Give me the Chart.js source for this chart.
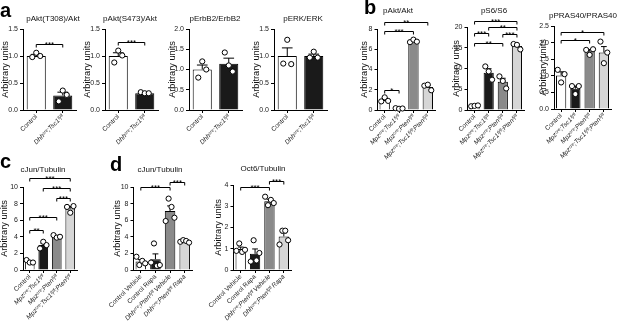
<!DOCTYPE html>
<html>
<head>
<meta charset="utf-8">
<script src="https://cdn.jsdelivr.net/npm/chart.js@4.4.1/dist/chart.umd.min.js"></script>
<style>
  html, body { margin: 0; padding: 0; background: #fff; }
  #fig { position: relative; width: 617px; height: 321px; overflow: hidden;
         font-family: 'Liberation Sans', Arial, sans-serif; }
  #fig canvas { position: absolute; }
  .ttl { position: absolute; font-size: 8px; white-space: nowrap; color: #111;
         transform: translate(-50%, -50%); }
  .lett { position: absolute; font-weight: bold; font-size: 20px; line-height: 20px; color: #000; }
</style>
</head>
<body>
<div id="fig"></div>
<script>
// categories
const catA = ['Control', 'Dhhᶜʳᵉ;Tsc1ᶠˡ/ᶠˡ'];
const catB = ['Control', 'Mpzᶜʳᵉ;Tsc1ᶠˡ/ᶠˡ', 'Mpzᶜʳᵉ;Ptenᶠˡ/ᶠˡ', 'Mpzᶜʳᵉ;Tsc1ᶠˡ/ᶠˡ;Ptenᶠˡ/ᶠˡ'];
const catD = ['Control Vehicle', 'Control Rapa', 'Dhhᶜʳᵉ;Ptenᶠˡ/ᶠˡ Vehicle', 'Dhhᶜʳᵉ;Ptenᶠˡ/ᶠˡ Rapa'];

// y tick labels
const ticks15 = [0, 0.5, 1.0, 1.5];
const ticks20 = [0, 0.5, 1.0, 1.5, 2.0];
const ticks25 = [0, 0.5, 1.0, 1.5, 2.0, 2.5];
const ticks8 = [0, 2, 4, 6, 8];
const ticks10 = [0, 2, 4, 6, 8, 10];
const ticksS6 = [0, 5, 10, 15, 20];
const ticks4 = [0, 1, 2, 3, 4];

// a: pAkt(T308)/Akt
const t308Mean = [1.0, 0.27];
const t308Sem = [0.03, 0.06];
const t308Pts = [[0.98, 1.06, 1.0], [0.16, 0.36, 0.28]];
const t308Sig = [[0, 1, 1.22, '***']];

// a: pAkt(S473)/Akt
const s473Mean = [1.0, 0.31];
const s473Sem = [0.06, 0.01];
const s473Pts = [[0.88, 1.1, 1.01], [0.33, 0.31, 0.31]];
const s473Sig = [[0, 1, 1.26, '***']];

// a: pErbB2/ErbB2
const erbMean = [1.0, 1.14];
const erbSem = [0.11, 0.14];
const erbPts = [[0.8, 1.2, 1.0], [1.42, 1.1, 0.95]];

// a: pERK/ERK
const erkMean = [1.0, 1.0];
const erkSem = [0.15, 0.035];
const erkPts = [[0.86, 1.3, 0.85], [0.97, 1.08, 0.97]];

// b: pAkt/Akt
const bAktMean = [1.0, 0.15, 6.8, 2.28];
const bAktSem = [0.2, 0.02, 0.08, 0.17];
const bAktPts = [[0.85, 1.25, 0.9], [0.18, 0.12, 0.15], [6.7, 6.95, 6.75], [2.4, 2.5, 1.95]];
const bAktSig = [[0, 3, 8.69, '**'], [0, 2, 7.8, '***'], [0, 1, 1.98, '*']];

// b: pS6/S6
const s6Mean = [1.0, 9.0, 6.8, 15.4];
const s6Sem = [0.1, 0.95, 0.85, 0.4];
const s6Pts = [[0.9, 1.0, 1.1], [10.5, 9.3, 7.3], [8.1, 7.0, 5.2], [15.9, 15.7, 14.6]];
const s6Sig = [[0, 3, 21.5, '***'], [1, 3, 20.07, '**'], [0, 1, 18.5, '***'], [2, 3, 18.2, '***'], [0, 2, 16.07, '**']];

// b: pPRAS40/PRAS40
const prasMean = [1.01, 0.61, 1.74, 1.7];
const prasSem = [0.11, 0.08, 0.05, 0.18];
const prasPts = [[1.18, 0.8, 1.05], [0.69, 0.45, 0.69], [1.78, 1.63, 1.8], [2.03, 1.38, 1.7]];
const prasSig = [[0, 3, 2.33, '*'], [0, 2, 2.08, '*']];

// c: cJun/Tubulin
const cJunMean = [1.0, 3.0, 4.0, 7.4];
const cJunSem = [0.1, 0.23, 0.1, 0.25];
const cJunPts = [[1.2, 0.9, 0.9], [2.6, 3.4, 3.0], [4.2, 3.9, 4.0], [7.6, 6.9, 7.7]];
const cJunSig = [[0, 3, 11.05, '***'], [1, 3, 9.84, '***'], [2, 3, 8.71, '***'], [0, 2, 6.42, '***'], [0, 1, 4.82, '**']];

// d: cJun/Tubulin
const dJunMean = [1.03, 1.3, 7.1, 3.45];
const dJunSem = [0.22, 0.64, 0.62, 0.07];
const dJunPts = [[1.6, 0.6, 1.1, 0.8], [0.9, 3.2, 0.5, 0.6], [5.9, 8.6, 7.6, 6.3], [3.4, 3.6, 3.5, 3.3]];
const dJunSig = [[0, 2, 9.96, '***'], [2, 3, 10.6, '***']];

// d: Oct6/Tubulin
const oct6Mean = [0.99, 0.76, 3.24, 1.58];
const oct6Sem = [0.09, 0.23, 0.09, 0.16];
const oct6Pts = [[0.9, 1.25, 0.85, 0.95], [0.4, 1.4, 0.45, 0.8], [3.45, 3.05, 3.3, 3.15], [1.2, 1.85, 1.85, 1.4]];
const oct6Sig = [[0, 2, 3.89, '***'], [2, 3, 4.19, '***']];

const colA = ['#ffffff', '#1a1a1a'];
const colB = ['#ffffff', '#1a1a1a', '#8a8a8a', '#d6d6d6'];

Chart.defaults.font.family = "'Liberation Sans', Arial, sans-serif";

// box = [left, right, top, bottom] of the plot area; ytx = y-title centre x
const panels = [
  { title: 'pAkt(T308)/Akt', cats: catA, mean: t308Mean, sem: t308Sem, pts: t308Pts, sig: t308Sig, ticks: ticks15, dec: 1, colors: colA,
    box: [23, 79, 29, 110], ytx: 6, tx: 53, ty: 18, spread: 0.15 },
  { title: 'pAkt(S473)/Akt', cats: catA, mean: s473Mean, sem: s473Sem, pts: s473Pts, sig: s473Sig, ticks: ticks15, dec: 1, colors: colA,
    box: [105, 161, 29, 110], ytx: 88, tx: 130, ty: 18, spread: 0.15 },
  { title: 'pErbB2/ErbB2', cats: catA, mean: erbMean, sem: erbSem, pts: erbPts, sig: [], ticks: ticks20, dec: 1, colors: colA,
    box: [189, 245, 29, 110], ytx: 173, tx: 215, ty: 18, spread: 0.15 },
  { title: 'pERK/ERK', cats: catA, mean: erkMean, sem: erkSem, pts: erkPts, sig: [], ticks: ticks15, dec: 1, colors: colA,
    box: [274, 330, 29, 110], ytx: 257, tx: 303, ty: 18, spread: 0.15 },
  { title: 'pAkt/Akt', cats: catB, mean: bAktMean, sem: bAktSem, pts: bAktPts, sig: bAktSig, ticks: ticks8, dec: 0, colors: colB,
    box: [377.5, 437.5, 29, 110], ytx: 365, tx: 398, ty: 10, spread: 0.24 },
  { title: 'pS6/S6', cats: catB, mean: s6Mean, sem: s6Sem, pts: s6Pts, sig: s6Sig, ticks: ticksS6, dec: 0, colors: colB,
    box: [467.5, 526.5, 27, 110], ytx: 457, tx: 494, ty: 10, spread: 0.24 },
  { title: 'pPRAS40/PRAS40', cats: catB, mean: prasMean, sem: prasSem, pts: prasPts, sig: prasSig, ticks: ticks25, dec: 1, colors: colB,
    box: [554, 614, 26, 109], ytx: 544, tx: 583, ty: 15, spread: 0.24 },
  { title: 'cJun/Tubulin', cats: catB, mean: cJunMean, sem: cJunSem, pts: cJunPts, sig: cJunSig, ticks: ticks10, dec: 0, colors: colB,
    box: [23, 80.2, 187, 270], ytx: 5, tx: 43, ty: 169, spread: 0.24 },
  { title: 'cJun/Tubulin', cats: catD, mean: dJunMean, sem: dJunSem, pts: dJunPts, sig: dJunSig, ticks: ticks10, dec: 0, colors: colB,
    box: [133.5, 194.7, 187, 270], ytx: 118, tx: 160, ty: 169, spread: 0.2 },
  { title: 'Oct6/Tubulin', cats: catD, mean: oct6Mean, sem: oct6Sem, pts: oct6Pts, sig: oct6Sig, ticks: ticks4, dec: 0, colors: colB,
    box: [233.5, 293.5, 185, 270], ytx: 219, tx: 263, ty: 168, spread: 0.2 },
];

const letters = [['a', 0, 0], ['b', 364, -3], ['c', 0, 151], ['d', 110, 154]];

// SEM bars (upper half), drawn right after the bars so the points sit on top
const semPlugin = {
  id: 'semBars',
  afterDatasetDraw(chart, args) {
    if (args.index !== 0) return;
    const ds = chart.data.datasets[0];
    const y = chart.scales.y, ctx = chart.ctx;
    ctx.save();
    ctx.strokeStyle = '#000';
    ctx.lineWidth = 1;
    args.meta.data.forEach((bar, i) => {
      const top = y.getPixelForValue(ds.data[i] + ds.sem[i]);
      const hw = bar.width * 0.28;
      ctx.beginPath();
      ctx.moveTo(bar.x, bar.y);
      ctx.lineTo(bar.x, top);
      ctx.moveTo(bar.x - hw, top);
      ctx.lineTo(bar.x + hw, top);
      ctx.stroke();
    });
    ctx.restore();
  }
};

// significance brackets
const sigPlugin = {
  id: 'sigBrackets',
  afterDraw(chart) {
    const ds = chart.data.datasets[0];
    const bars = chart.getDatasetMeta(0).data;
    const y = chart.scales.y, ctx = chart.ctx;
    ctx.save();
    ctx.strokeStyle = '#000';
    ctx.fillStyle = '#000';
    ctx.lineWidth = 1;
    ctx.font = "8px 'Liberation Sans', Arial, sans-serif";
    ctx.textAlign = 'center';
    ctx.textBaseline = 'alphabetic';
    ds.sig.forEach(([a, b, v, s]) => {
      const x1 = bars[a].x, x2 = bars[b].x;
      const yy = Math.round(y.getPixelForValue(v)) + 0.5;
      ctx.beginPath();
      ctx.moveTo(x1, yy + 3);
      ctx.lineTo(x1, yy);
      ctx.lineTo(x2, yy);
      ctx.lineTo(x2, yy + 3);
      ctx.stroke();
      ctx.fillText(s, (x1 + x2) / 2, yy + 2.5);
    });
    ctx.restore();
  }
};

const fig = document.getElementById('fig');
const EXTRA = 16; // room on the left so long rotated labels are not cut
const YT_FONT = 9.2;

function makeChart(p) {
  const [l, r, t, b] = p.box;
  const top = t < 150 ? 0 : 158;
  const titleLeft = Math.round(p.ytx - YT_FONT * 0.6);
  const left = titleLeft - EXTRA;
  const yw = l - titleLeft;
  const pr = 2;
  const w = Math.round(r - left + pr);
  const h = t < 150 ? 160 : 321 - top;
  const xh = h - (b - top);

  const cv = document.createElement('canvas');
  cv.width = w; cv.height = h;
  cv.style.left = left + 'px';
  cv.style.top = top + 'px';
  fig.appendChild(cv);

  const points = [];
  p.pts.forEach((grp, i) => {
    grp.forEach((v, j) => {
      points.push({ x: i + (j - (grp.length - 1) / 2) * p.spread, y: v });
    });
  });

  new Chart(cv, {
    type: 'bar',
    data: {
      labels: p.cats,
      datasets: [
        {
          type: 'bar',
          data: p.mean,
          backgroundColor: p.colors,
          borderColor: '#000',
          borderWidth: 1,
          barPercentage: 0.72,
          categoryPercentage: 1,
          grouped: false,
          order: 2,
          sem: p.sem,
          sig: p.sig,
        },
        {
          type: 'scatter',
          xAxisID: 'xp',
          data: points,
          pointRadius: 2.6,
          pointBackgroundColor: '#fff',
          pointBorderColor: '#000',
          pointBorderWidth: 1,
          order: 1,
          clip: false,
        },
      ]
    },
    options: {
      responsive: false,
      animation: false,
      devicePixelRatio: 1,
      layout: { padding: { top: t - top, right: pr, left: EXTRA, bottom: 0 } },
      plugins: { legend: { display: false }, tooltip: { enabled: false }, title: { display: false } },
      scales: {
        x: {
          offset: true,
          grid: { offset: false, drawOnChartArea: false, drawTicks: true, tickLength: 3, color: '#000' },
          border: { color: '#000', width: 1 },
          ticks: {
            autoSkip: false, minRotation: 45, maxRotation: 45, padding: 0, color: '#222',
            font: ctx => ({ size: 6.5, style: /^Control/.test(p.cats[ctx.index] || '') ? 'normal' : 'italic' }),
          },
          afterFit: s => { s.height = xh; s.paddingLeft = 0; s.paddingRight = 0; },
        },
        xp: {
          type: 'linear', display: false, offset: false, bounds: 'data', grace: 0,
          min: -0.5, max: p.cats.length - 0.5,
        },
        y: {
          min: p.ticks[0],
          max: p.ticks[p.ticks.length - 1],
          afterBuildTicks: s => { s.ticks = p.ticks.map(v => ({ value: v })); },
          ticks: { font: { size: 7 }, color: '#222', padding: 2, callback: v => v.toFixed(p.dec) },
          grid: { drawOnChartArea: false, drawTicks: true, tickLength: 3, color: '#000', lineWidth: 1 },
          border: { color: '#000', width: 1 },
          title: { display: true, text: 'Arbitrary units', font: { size: YT_FONT }, color: '#111', padding: 0 },
          afterFit: s => { s.width = yw; s.paddingTop = 0; s.paddingBottom = 0; },
        },
      },
    },
    plugins: [semPlugin, sigPlugin],
  });

  const tt = document.createElement('div');
  tt.className = 'ttl';
  tt.textContent = p.title;
  tt.style.left = p.tx + 'px';
  tt.style.top = p.ty + 'px';
  fig.appendChild(tt);
}

panels.forEach(makeChart);

letters.forEach(([ch, x, y]) => {
  const d = document.createElement('div');
  d.className = 'lett';
  d.textContent = ch;
  d.style.left = x + 'px';
  d.style.top = y + 'px';
  fig.appendChild(d);
});
</script>
</body>
</html>
